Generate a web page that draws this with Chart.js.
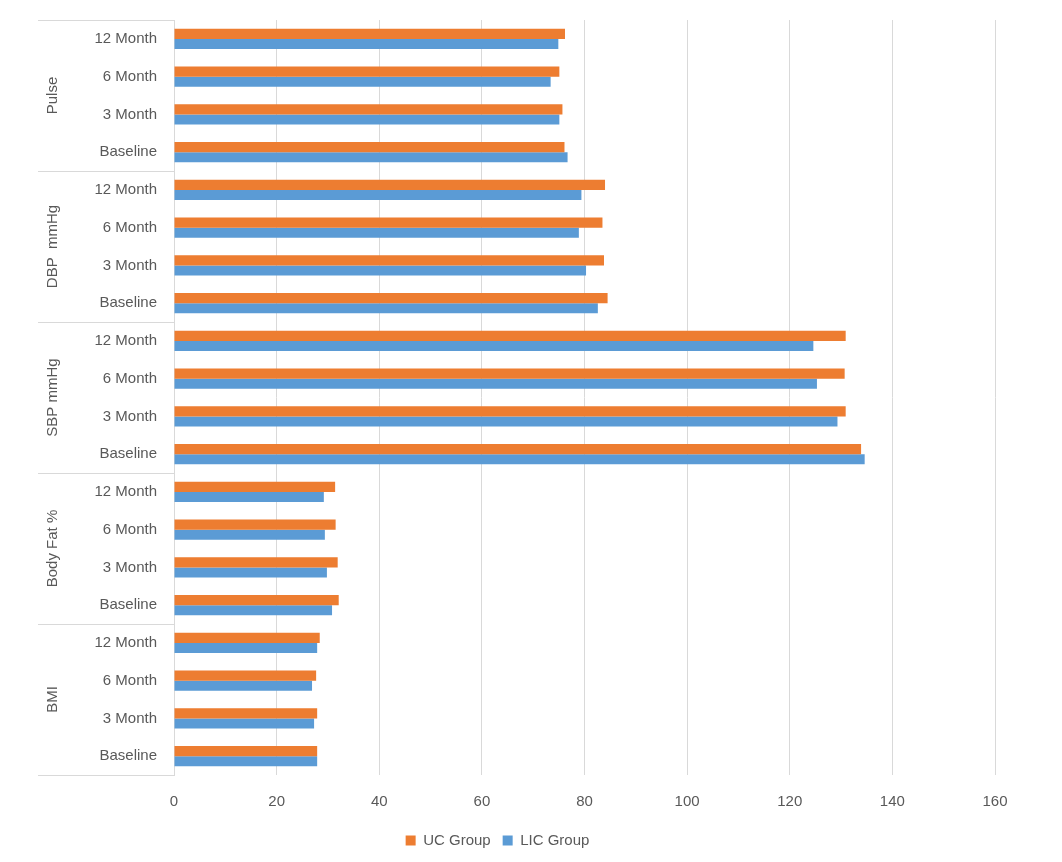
<!DOCTYPE html>
<html>
<head>
<meta charset="utf-8">
<script src="https://cdn.jsdelivr.net/npm/chart.js@4"></script>
<style>
html, body { margin: 0; padding: 0; background: #fff; }
#wrap { width: 1062px; height: 862px; }
</style>
</head>
<body>
<div id="wrap"><canvas id="chart"></canvas></div>
<script>
// groups, top to bottom
const groupNames = ["Pulse", "DBP  mmHg", "SBP mmHg", "Body Fat %", "BMI"];
const periods = ["12 Month", "6 Month", "3 Month", "Baseline"];

// values, same order as the rows
const ucGroup = [
  76.2, 75.1, 75.7, 76.1,
  84.0, 83.5, 83.8, 84.5,
  130.9, 130.7, 130.9, 133.9,
  31.4, 31.5, 31.9, 32.1,
  28.4, 27.7, 27.9, 27.9
];
const licGroup = [
  74.9, 73.4, 75.1, 76.7,
  79.4, 78.9, 80.3, 82.6,
  124.6, 125.3, 129.3, 134.6,
  29.2, 29.4, 29.8, 30.8,
  27.9, 26.9, 27.3, 27.9
];
const xTicks = [0, 20, 40, 60, 80, 100, 120, 140, 160];

const labels = [];
groupNames.forEach(() => periods.forEach(p => labels.push(p)));

const FONT = "'Liberation Sans', Arial, sans-serif";
const TXT = "#595959";
const LINE = "#d9d9d9";

// outer group labels and separator lines on the left
const groupAxis = {
  id: "groupAxis",
  afterDraw(chart) {
    const c = chart.ctx;
    const y = chart.scales.y;
    const left = 38;
    const right = chart.chartArea.left;
    const n = periods.length;
    c.save();
    c.strokeStyle = LINE;
    c.lineWidth = 1;
    for (let g = 0; g <= groupNames.length; g++) {
      const py = Math.round(y.getPixelForValue(g * n - 0.5)) + 0.5;
      c.beginPath();
      c.moveTo(left, py);
      c.lineTo(right, py);
      c.stroke();
    }
    c.fillStyle = TXT;
    c.font = "15px " + FONT;
    c.textAlign = "center";
    c.textBaseline = "middle";
    groupNames.forEach((name, g) => {
      const top = y.getPixelForValue(g * n - 0.5);
      const bot = y.getPixelForValue(g * n + n - 0.5);
      c.save();
      c.translate(53, (top + bot) / 2);
      c.rotate(-Math.PI / 2);
      c.fillText(name, 0, 0);
      c.restore();
    });
    c.restore();
  }
};

new Chart(document.getElementById("chart"), {
  type: "bar",
  data: {
    labels: labels,
    datasets: [
      {
        label: "UC Group",
        data: ucGroup,
        backgroundColor: "#ed7d31",
        categoryPercentage: 0.54,
        barPercentage: 1.0
      },
      {
        label: "LIC Group",
        data: licGroup,
        backgroundColor: "#5b9bd5",
        categoryPercentage: 0.54,
        barPercentage: 1.0
      }
    ]
  },
  options: {
    indexAxis: "y",
    responsive: true,
    maintainAspectRatio: false,
    animation: false,
    layout: { padding: { top: 20, right: 67, left: 0, bottom: 4 } },
    plugins: {
      legend: {
        position: "bottom",
        labels: {
          color: TXT,
          font: { family: FONT, size: 15 },
          boxWidth: 10,
          boxHeight: 10,
          padding: 12
        }
      },
      tooltip: { enabled: false }
    },
    scales: {
      x: {
        min: 0,
        max: 160,
        afterBuildTicks(axis) { axis.ticks = xTicks.map(v => ({ value: v })); },
        afterFit(axis) { axis.height -= 8; },
        grid: { color: LINE, drawTicks: false },
        border: { display: false },
        ticks: { color: TXT, font: { family: FONT, size: 15 }, padding: 18 }
      },
      y: {
        afterFit(axis) {
          axis.width = 174;
          axis.paddingTop = 0;
          axis.paddingBottom = 0;
        },
        grid: { display: false, drawTicks: false },
        border: { display: true, color: LINE },
        ticks: { color: TXT, font: { family: FONT, size: 15 }, padding: 17, autoSkip: false }
      }
    }
  },
  plugins: [groupAxis]
});
</script>
</body>
</html>
